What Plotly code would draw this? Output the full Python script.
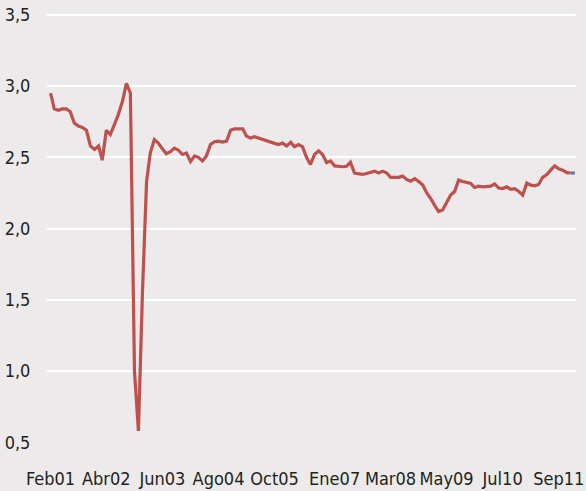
import pandas as pd
import plotly.graph_objects as go

# Monthly series, Feb 2001 .. Jan 2012
values = [
    2.95, 2.84, 2.83, 2.84, 2.84, 2.82, 2.74, 2.72, 2.71, 2.69,
    2.58, 2.555, 2.58, 2.48, 2.69, 2.66, 2.73, 2.80, 2.89, 3.02,
    2.95, 1.00, 0.58, 1.56, 2.33, 2.53, 2.625, 2.60, 2.56, 2.525,
    2.54, 2.565, 2.55, 2.52, 2.53, 2.47, 2.51, 2.50, 2.475, 2.51,
    2.59, 2.61, 2.614, 2.607, 2.614, 2.69, 2.70, 2.70, 2.70, 2.65,
    2.635, 2.645, 2.635, 2.627, 2.613, 2.604, 2.598, 2.59, 2.60, 2.58,
    2.605, 2.575, 2.59, 2.575, 2.50, 2.45, 2.52, 2.545, 2.52, 2.462,
    2.475, 2.44, 2.436, 2.434, 2.437, 2.466, 2.39, 2.383, 2.38, 2.387,
    2.395, 2.403, 2.39, 2.403, 2.39, 2.36, 2.36, 2.36, 2.368, 2.345,
    2.333, 2.35, 2.33, 2.305, 2.25, 2.21, 2.16, 2.12, 2.13, 2.18,
    2.235, 2.26, 2.34, 2.33, 2.322, 2.316, 2.288, 2.297, 2.293, 2.295,
    2.298, 2.313, 2.285, 2.281, 2.293, 2.275, 2.28, 2.26, 2.235, 2.32,
    2.305, 2.30, 2.31, 2.36, 2.378, 2.41, 2.44, 2.42, 2.41, 2.392,
    2.39,
]
final_values = [2.39, 2.39]  # last stretch drawn in blue

months = pd.date_range("2001-02-01", periods=len(values), freq="MS")
final_months = pd.date_range(months[-1], periods=len(final_values), freq="MS")

x_tick_dates = ["2001-02-01", "2002-04-01", "2003-06-01", "2004-08-01", "2005-10-01",
                "2007-01-01", "2008-03-01", "2009-05-01", "2010-07-01", "2011-09-01"]
x_tick_labels = ["Feb01", "Abr02", "Jun03", "Ago04", "Oct05",
                 "Ene07", "Mar08", "May09", "Jul10", "Sep11"]
y_tick_vals = [0.5, 1.0, 1.5, 2.0, 2.5, 3.0, 3.5]
y_tick_labels = ["0,5", "1,0", "1,5", "2,0", "2,5", "3,0", "3,5"]

bg = "#ECEAEA"
font_family = "DejaVu Sans Condensed, Liberation Sans Narrow, Roboto Condensed, DejaVu Sans, sans-serif"

fig = go.Figure()
fig.add_trace(go.Scatter(x=months, y=values, mode="lines",
                         line=dict(color="#C0504D", width=3.2),
                         hoverinfo="skip", showlegend=False))
fig.add_trace(go.Scatter(x=final_months, y=final_values, mode="lines",
                         line=dict(color="#4F81BD", width=3.2),
                         hoverinfo="skip", showlegend=False))

fig.update_layout(
    width=586, height=491,
    margin=dict(l=47, r=10, t=12, b=48, autoexpand=False),
    paper_bgcolor=bg, plot_bgcolor=bg,
    font=dict(family=font_family, size=18, color="#231F20"),
    showlegend=False,
)
fig.update_xaxes(
    range=["2001-01-05", "2012-01-10"],
    tickmode="array", tickvals=x_tick_dates, ticktext=x_tick_labels,
    showgrid=False, zeroline=False, showline=False,
    ticks="outside", ticklen=19, tickcolor="rgba(0,0,0,0)",
)
fig.update_yaxes(
    range=[0.495, 3.52],
    tickmode="array", tickvals=y_tick_vals, ticktext=y_tick_labels,
    showgrid=True, gridcolor="#FFFFFF", gridwidth=2,
    zeroline=False, showline=False,
    ticks="outside", ticklen=12, tickcolor="rgba(0,0,0,0)",
)

fig.write_html(
    "out.html",
    config={"displayModeBar": False},
    post_script="document.body.style.margin='0';document.body.style.overflow='hidden';",
)
